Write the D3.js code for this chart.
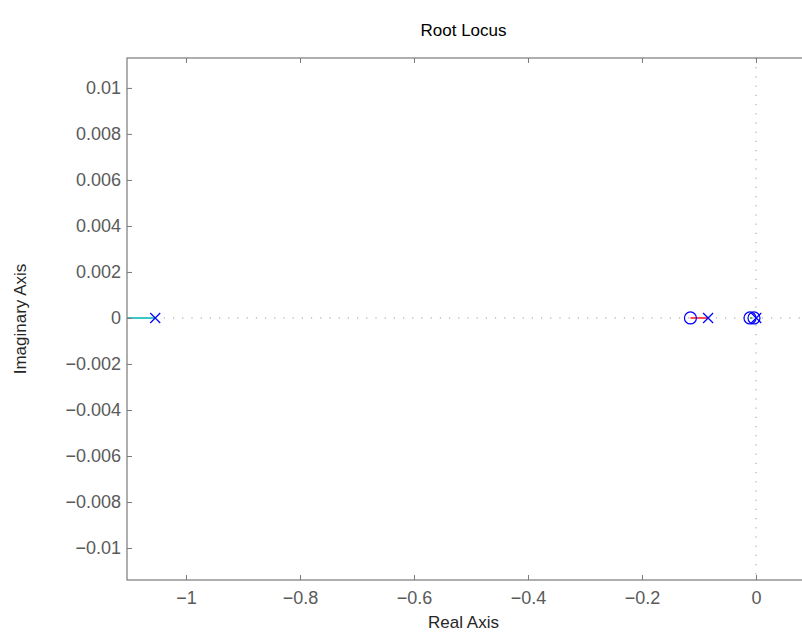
<!DOCTYPE html>
<html>
<head>
<meta charset="utf-8">
<script src="https://cdn.jsdelivr.net/npm/d3@7"></script>
<style>
  html, body { margin: 0; padding: 0; background: #fff; }
  svg { display: block; font-family: "Liberation Sans", Arial, Helvetica, sans-serif; }
</style>
</head>
<body>
<svg id="chart" width="802" height="640"></svg>
<script>
// Open-loop poles (x) and zeros (o) on the real axis
const poles = [-1.054, -0.084, 0.0005];
const zeros = [-0.115, -0.0105, -0.0035];

// Locus branches along the real axis: [start, end, colour]
const branchStart = [-1.054, -0.084, -0.0065];
const branchEnd   = [-1.2, -0.115, -0.0105];
const branchColor = ["#3cc6c6", "#ff4d4d", "#4cc44c"];

// Tick values
const xTicks = [-1, -0.8, -0.6, -0.4, -0.2, 0];
const yTicks = [0.01, 0.008, 0.006, 0.004, 0.002, 0, -0.002, -0.004, -0.006, -0.008, -0.01];

const svg = d3.select("#chart");
const L = 127, R = 803, T = 58, B = 580;

const x = d3.scaleLinear().domain([-1.1035, 0.0825]).range([L, R]);
const y = d3.scaleLinear().domain([-0.01139, 0.01130]).range([B, T]);

const fmt = v => {
  if (v === 0) return "0";
  const s = d3.format("")(+v.toPrecision(6));
  return s.replace("-", "\u2212");
};

const axisColor = "#7a7a7a";
const labelColor = "#5a5a5a";

svg.append("clipPath").attr("id", "plotclip")
  .append("rect").attr("x", L).attr("y", T).attr("width", R - L).attr("height", B - T);

// Dotted reference lines through the origin
const plot = svg.append("g").attr("clip-path", "url(#plotclip)");
plot.append("line")
  .attr("x1", L).attr("x2", R).attr("y1", y(0)).attr("y2", y(0))
  .attr("stroke", "#9a9a9a").attr("stroke-width", 1).attr("stroke-dasharray", "1.2,8");
plot.append("line")
  .attr("x1", x(0)).attr("x2", x(0)).attr("y1", T).attr("y2", B)
  .attr("stroke", "#9a9a9a").attr("stroke-width", 1).attr("stroke-dasharray", "1.2,8");

// Branches
plot.selectAll("line.branch")
  .data(d3.range(branchStart.length))
  .join("line")
  .attr("class", "branch")
  .attr("x1", i => x(branchStart[i])).attr("x2", i => x(branchEnd[i]))
  .attr("y1", y(0)).attr("y2", y(0))
  .attr("stroke", i => branchColor[i]).attr("stroke-width", 2);

// Zeros
plot.selectAll("circle.zero")
  .data(zeros)
  .join("circle")
  .attr("class", "zero")
  .attr("cx", d => x(d)).attr("cy", y(0)).attr("r", 6)
  .attr("fill", "none").attr("stroke", "#0000ff").attr("stroke-width", 1.2);

// Poles
const s = 5;
plot.selectAll("path.pole")
  .data(poles)
  .join("path")
  .attr("class", "pole")
  .attr("d", d => {
    const cx = x(d), cy = y(0);
    return `M${cx - s},${cy - s}L${cx + s},${cy + s}M${cx - s},${cy + s}L${cx + s},${cy - s}`;
  })
  .attr("fill", "none").attr("stroke", "#0000ff").attr("stroke-width", 1.2);

// Axes (ticks inward, mirrored)
const axes = svg.append("g");
function styleAxis(g) {
  g.select(".domain").remove();
  g.selectAll(".tick line").attr("stroke", axisColor);
  g.selectAll(".tick text").attr("fill", labelColor).attr("font-size", 18);
}
axes.append("g").attr("transform", `translate(0,${B})`)
  .call(d3.axisBottom(x).tickValues(xTicks).tickSize(-5).tickPadding(11).tickFormat(fmt))
  .call(styleAxis);
axes.append("g").attr("transform", `translate(0,${T})`)
  .call(d3.axisTop(x).tickValues(xTicks).tickSize(-5).tickFormat(""))
  .call(styleAxis);
axes.append("g").attr("transform", `translate(${L},0)`)
  .call(d3.axisLeft(y).tickValues(yTicks).tickSize(-5).tickPadding(6).tickFormat(fmt))
  .call(styleAxis);

axes.append("rect")
  .attr("x", L).attr("y", T).attr("width", R - L).attr("height", B - T)
  .attr("fill", "none").attr("stroke", axisColor).attr("stroke-width", 1.2);

// Title and axis labels
const mid = (L + 800) / 2;
svg.append("text").attr("x", mid).attr("y", 36).attr("text-anchor", "middle")
  .attr("font-size", 17).attr("fill", "#000").text("Root Locus");
svg.append("text").attr("x", mid).attr("y", 628).attr("text-anchor", "middle")
  .attr("font-size", 17).attr("fill", "#262626").text("Real Axis");
svg.append("text").attr("transform", `translate(26,${(T + B) / 2}) rotate(-90)`)
  .attr("text-anchor", "middle")
  .attr("font-size", 17).attr("fill", "#262626").text("Imaginary Axis");
</script>
</body>
</html>
